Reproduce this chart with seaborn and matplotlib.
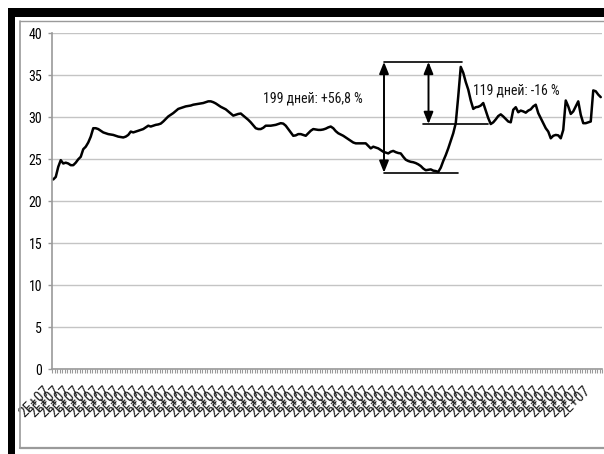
import matplotlib
matplotlib.use("Agg")
import matplotlib.pyplot as plt
from matplotlib.patches import Rectangle, FancyArrowPatch
from matplotlib.lines import Line2D
import numpy as np
import pandas as pd
import seaborn as sns

# Closing price per session
price = [
    22.6, 22.9, 24.1, 24.9, 24.5, 24.6, 24.5, 24.3, 24.3, 24.6,
    25.0, 25.3, 26.2, 26.5, 27.0, 27.7, 28.7, 28.7, 28.6, 28.4,
    28.2, 28.1, 28.0, 27.95, 27.9, 27.8, 27.7, 27.65, 27.6, 27.7,
    27.9, 28.3, 28.2, 28.3, 28.4, 28.5, 28.6, 28.8, 29.0, 28.9,
    29.0, 29.1, 29.15, 29.25, 29.5, 29.8, 30.1, 30.3, 30.5, 30.75,
    31.0, 31.1, 31.2, 31.3, 31.35, 31.4, 31.5, 31.55, 31.6, 31.65,
    31.7, 31.8, 31.9, 31.9, 31.8, 31.65, 31.45, 31.25, 31.1, 30.95,
    30.7, 30.45, 30.2, 30.3, 30.4, 30.45, 30.2, 29.95, 29.7, 29.4,
    29.05, 28.7, 28.6, 28.6, 28.75, 29.0, 29.0, 29.0, 29.05, 29.1,
    29.2, 29.3, 29.25, 29.0, 28.6, 28.2, 27.8, 27.85, 28.0, 28.0,
    27.9, 27.8, 28.1, 28.4, 28.6, 28.55, 28.5, 28.5, 28.55, 28.65,
    28.8, 28.9, 28.7, 28.35, 28.1, 27.95, 27.8, 27.6, 27.4, 27.2,
    27.0, 26.9, 26.9, 26.9, 26.9, 26.9, 26.6, 26.3, 26.5, 26.4,
    26.3, 26.1, 25.9, 25.8, 25.7, 25.9, 26.0, 25.85, 25.75, 25.7,
    25.3, 24.95, 24.8, 24.7, 24.65, 24.55, 24.4, 24.2, 23.9, 23.7,
    23.75, 23.8, 23.65, 23.6, 23.5, 24.0, 24.8, 25.5, 26.3, 27.2,
    28.1, 29.3, 32.5, 36.0, 35.3, 34.2, 33.3, 32.0, 31.0, 31.2,
    31.25, 31.4, 31.7, 30.8, 29.9, 29.2, 29.4, 29.75, 30.15, 30.35,
    30.1, 29.8, 29.5, 29.4, 30.9, 31.2, 30.6, 30.8, 30.7, 30.55,
    30.8, 30.95, 31.3, 31.5, 30.5, 29.9, 29.3, 28.7, 28.3, 27.5,
    27.8, 27.9, 27.85, 27.5, 28.5, 32.0, 31.3, 30.4, 30.7, 31.3,
    31.9, 30.3, 29.3, 29.3, 29.4, 29.5, 33.2, 33.1, 32.7, 32.4,
]
# Session dates are stored as yyyymmdd numbers, shown in general format
date_labels = ["2E+07"] * len(price)
label_step = 4
y_ticks = [0, 5, 10, 15, 20, 25, 30, 35, 40]

# Annotation levels and captions
rise_low, rise_high, fall_low = 23.4, 36.6, 29.2
rise_text = "199 дней: +56,8 %"
fall_text = "119 дней: -16 %"

sns.set_theme(style="white")
plt.rcParams["font.family"] = ["DejaVu Sans Condensed", "Liberation Sans Narrow",
                               "Roboto Condensed", "Roboto", "DejaVu Sans"]

W, H = 604, 454
fig = plt.figure(figsize=(W / 100, H / 100), dpi=100)


def fx(px):
    return px / W


def fy(py):
    return 1 - py / H


# outer window frame
fig.add_artist(Rectangle((fx(8), fy(17)), fx(604 - 8), 9 / H, transform=fig.transFigure,
                         facecolor="black", edgecolor="none"))
fig.add_artist(Rectangle((fx(8), 0), fx(7), fy(8), transform=fig.transFigure,
                         facecolor="black", edgecolor="none"))
# chart area border
grey = "#9a9a9a"
fig.add_artist(Line2D([fx(19.5), fx(19.5)], [fy(21), fy(448)], transform=fig.transFigure,
                      color=grey, lw=1.2))
fig.add_artist(Line2D([fx(19.5), 1], [fy(21), fy(21)], transform=fig.transFigure,
                      color=grey, lw=1.0))
fig.add_artist(Line2D([fx(19.5), 1], [fy(448), fy(448)], transform=fig.transFigure,
                      color=grey, lw=1.6))

n = len(price)
x0, x1, ytop, ybot = 52, 52 + 2.5 * n, 33.3, 369.3
ax = fig.add_axes([fx(x0), fy(ybot), (x1 - x0) / W, (ybot - ytop) / H])

df = pd.DataFrame({"session": np.arange(n), "price": price})
sns.lineplot(data=df, x="session", y="price", ax=ax, color="black", linewidth=1.8)

ax.set_xlim(-0.5, n - 0.5)
ax.set_ylim(0, 40)
ax.set_xlabel("")
ax.set_ylabel("")

# horizontal gridlines
ax.set_yticks(y_ticks)
ax.set_yticklabels([str(v) for v in y_ticks])
ax.yaxis.grid(True, color="#c4c4c4", linewidth=1.0)
ax.xaxis.grid(False)
ax.tick_params(axis="y", which="major", length=3, width=1, color=grey, direction="out",
               pad=4, labelsize=10, labelcolor="black", left=True)

# category labels and boundary tick marks
major = np.arange(0, n, label_step)
ax.set_xticks(major)
ax.set_xticklabels([date_labels[i] for i in major], rotation=45, ha="right", va="top",
                   fontsize=11, color="#222222")
ax.set_xticks(np.arange(n + 1) - 0.5, minor=True)
ax.tick_params(axis="x", which="major", length=0, pad=10)
ax.tick_params(axis="x", which="minor", length=3, width=0.8, color=grey,
               direction="out", bottom=True)

for side in ("top", "right"):
    ax.spines[side].set_visible(False)
for side in ("left", "bottom"):
    ax.spines[side].set_color(grey)
    ax.spines[side].set_linewidth(1.2)


def px_to_x(px):
    return (px - 53.25) / 2.5


arrow_style = "<|-|>,head_length=7,head_width=2.8"

# rise bracket
ax.plot([px_to_x(384), px_to_x(462)], [rise_high, rise_high], color="black", lw=1.2,
        clip_on=False)
ax.plot([px_to_x(384), px_to_x(458)], [rise_low, rise_low], color="black", lw=1.2)
ax.add_patch(FancyArrowPatch((px_to_x(384), rise_low), (px_to_x(384), rise_high),
                             arrowstyle=arrow_style, color="black", lw=1.4,
                             shrinkA=0, shrinkB=0, mutation_scale=1))
# fall bracket
ax.plot([px_to_x(423), px_to_x(488)], [fall_low, fall_low], color="black", lw=1.2)
ax.add_patch(FancyArrowPatch((px_to_x(428.5), fall_low), (px_to_x(428.5), rise_high),
                             arrowstyle=arrow_style, color="black", lw=1.4,
                             shrinkA=0, shrinkB=0, mutation_scale=1))

ax.text(px_to_x(263), 32.26, rise_text, ha="left", va="center", fontsize=10, color="#111111")
ax.text(px_to_x(472.7), 33.2, fall_text, ha="left", va="center", fontsize=10, color="#111111")

fig.savefig("out.png", dpi=100)
